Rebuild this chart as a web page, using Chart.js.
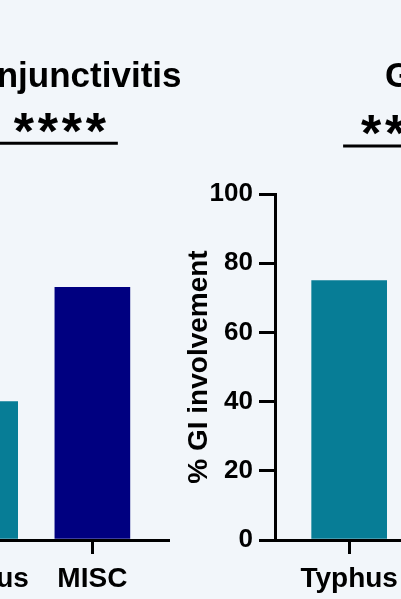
<!DOCTYPE html>
<html>
<head>
<meta charset="utf-8">
<script src="https://cdn.jsdelivr.net/npm/chart.js@4.4.1/dist/chart.umd.min.js"></script>
<style>
  html, body { margin: 0; padding: 0; background: #f2f6fa; overflow: hidden; }
  body { width: 401px; height: 599px; position: relative; }
  canvas { position: absolute; top: 0; }
  #panelConj { left: -194px; }
  #panelGI { left: 175px; }
</style>
</head>
<body>
<canvas id="panelConj" width="382" height="599"></canvas>
<canvas id="panelGI" width="382" height="599"></canvas>
<script>
// Grupos y colores
const grupos = ["Typhus", "MISC"];
const coloresGrupo = ["#077d96", "#000080"];

// Porcentajes por panel
const conjuntivitis = [40, 73];
const afectacionGI = [75, null];

// Marcas del eje Y
const ticksY = [0, 20, 40, 60, 80, 100];

const fuente = "'Liberation Sans', Arial, Helvetica, sans-serif";
Chart.defaults.font.family = fuente;
Chart.defaults.font.weight = "bold";
Chart.defaults.color = "#000";

// Título, barra de significancia y asteriscos (en unidades de datos)
const anotaciones = {
  id: "anotaciones",
  afterDraw(chart, args, opts) {
    const { ctx, scales: { x, y } } = chart;
    ctx.save();
    ctx.fillStyle = "#000";
    ctx.font = `bold 35px ${fuente}`;
    ctx.textAlign = "center";
    ctx.textBaseline = "alphabetic";
    ctx.fillText(opts.titulo, x.getPixelForValue(opts.tituloX), y.getPixelForValue(opts.tituloY));

    const ly = y.getPixelForValue(opts.sigY);
    ctx.strokeStyle = "#000";
    ctx.lineWidth = 3;
    ctx.beginPath();
    ctx.moveTo(x.getPixelForValue(opts.sigDesde), ly);
    ctx.lineTo(x.getPixelForValue(opts.sigHasta), ly);
    ctx.stroke();

    ctx.font = `bold 52px ${fuente}`;
    const m = ctx.measureText("*");
    const cy = ly - 20.5;
    const baseY = cy + (m.actualBoundingBoxAscent - m.actualBoundingBoxDescent) / 2;
    const cx = x.getPixelForValue(opts.sigCentro);
    const n = opts.asteriscos;
    for (let i = 0; i < n; i++) {
      ctx.fillText("*", cx + (i - (n - 1) / 2) * 24, baseY);
    }
    ctx.restore();
  }
};

function crearPanel(id, valores, tituloEjeY, notas) {
  const ctx = document.getElementById(id).getContext("2d");
  return new Chart(ctx, {
    type: "bar",
    data: {
      datasets: [{
        data: grupos.map((g, i) => ({ x: i + 1, y: valores[i] })),
        backgroundColor: coloresGrupo,
        borderWidth: 0,
        barThickness: 75
      }]
    },
    plugins: [anotaciones],
    options: {
      responsive: false,
      devicePixelRatio: 1,
      animation: false,
      layout: { padding: { top: 194, right: 20, bottom: 0, left: 0 } },
      plugins: {
        legend: { display: false },
        tooltip: { enabled: false },
        anotaciones: notas
      },
      scales: {
        x: {
          type: "linear",
          offset: false,
          min: 0.339,
          max: 2.674,
          afterBuildTicks: (s) => { s.ticks = grupos.map((g, i) => ({ value: i + 1 })); },
          afterFit: (s) => { s.height = 59; },
          ticks: {
            callback: (v) => grupos[v - 1],
            font: { size: 28, weight: "bold" },
            padding: 8,
            color: "#000"
          },
          grid: { offset: false, drawOnChartArea: false, drawTicks: true, tickLength: 14, lineWidth: 3, color: "#000" },
          border: { display: true, width: 3, color: "#000" }
        },
        y: {
          min: 0,
          max: 100,
          afterBuildTicks: (s) => { s.ticks = ticksY.map(v => ({ value: v })); },
          afterFit: (s) => { s.width = 100; },
          ticks: { font: { size: 26, weight: "bold" }, padding: 6, color: "#000" },
          grid: { drawOnChartArea: false, drawTicks: true, tickLength: 16, lineWidth: 3, color: "#000" },
          border: { display: true, width: 3, color: "#000" },
          title: {
            display: true,
            text: tituloEjeY,
            font: { size: 28, weight: "bold" },
            padding: { top: 7, bottom: 0 },
            color: "#000"
          }
        }
      }
    }
  });
}

crearPanel("panelConj", conjuntivitis, "% Conjunctivitis", {
  titulo: "Conjunctivitis", tituloX: 1.763, tituloY: 131,
  sigY: 114.7, sigDesde: 1.15, sigHasta: 2.227, sigCentro: 1.71, asteriscos: 4
});

crearPanel("panelGI", afectacionGI, "% GI involvement", {
  titulo: "GI involvement", tituloX: 2.438, tituloY: 131,
  sigY: 113.9, sigDesde: 0.946, sigHasta: 1.66, sigCentro: 1.303, asteriscos: 2
});
</script>
</body>
</html>
